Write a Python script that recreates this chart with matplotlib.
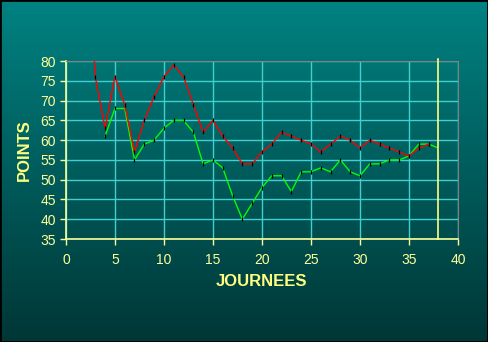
import numpy as np
import matplotlib
matplotlib.use('Agg')
from matplotlib import pyplot as plt
from matplotlib.colors import LinearSegmentedColormap

# data
journees_red = list(range(2, 38))
points_red = [120, 76, 63, 76, 69, 57, 65, 71, 76, 79, 76, 69, 62, 65, 61, 58, 54, 54,
              57, 59, 62, 61, 60, 59, 57, 59, 61, 60, 58, 60, 59, 58, 57, 56, 58, 59]
journees_green = list(range(4, 39))
points_green = [61, 68, 68, 55, 59, 60, 63, 65, 65, 62, 54, 55, 53, 46, 40, 44, 48, 51,
                51, 47, 52, 52, 53, 52, 55, 52, 51, 54, 54, 55, 55, 56, 59, 59, 58]
x_ticks = list(range(0, 45, 5))
y_ticks = list(range(35, 85, 5))
marker_line = 38

plt.rcParams['font.family'] = ['Liberation Sans', 'DejaVu Sans']

fig = plt.figure(figsize=(4.88, 3.42), dpi=100)

# background gradient over the whole figure
bg = fig.add_axes([0, 0, 1, 1], zorder=0)
cmap = LinearSegmentedColormap.from_list('bg', ['#008282', '#003636'])
bg.imshow(np.linspace(0, 1, 256).reshape(-1, 1), aspect='auto', cmap=cmap,
          extent=[0, 1, 0, 1])
bg.set_axis_off()
bg.add_patch(plt.Rectangle((0, 0), 1, 1, fill=False, edgecolor='black', lw=2,
                           transform=bg.transAxes, clip_on=False))

ax = fig.add_axes([0.135, 0.301, 0.8035, 0.5206], zorder=1)
ax.patch.set_alpha(0)

ax.plot(journees_green, points_green, color='#00ff00', lw=1, marker='|', ms=2.5,
        mec='black', mew=0.9, zorder=3)
ax.plot(journees_red, points_red, color='#ff0000', lw=1, marker='|', ms=2.5,
        mec='black', mew=0.9, zorder=4)
ax.axvline(marker_line, color='#ffff80', lw=1.2, ymax=1.01, clip_on=False, zorder=5)

ax.set_xlim(0, 40)
ax.set_ylim(35, 80)
ax.set_xticks(x_ticks)
ax.set_yticks(y_ticks)
ax.grid(True, color='#40d0d0', lw=1)
ax.set_axisbelow(True)

for side in ['top', 'right']:
    ax.spines[side].set_color('#808080')
for side in ['left', 'bottom']:
    ax.spines[side].set_color('#ffff99')
    ax.spines[side].set_linewidth(1.2)

ax.tick_params(colors='#ffff99', labelsize=10, length=4, width=1)
ax.tick_params(axis='x', pad=6)
ax.tick_params(axis='y', pad=3)

ax.set_xlabel('JOURNEES', color='#ffff80', fontsize=12, fontweight='bold', labelpad=5)
ax.set_ylabel('POINTS', color='#ffff80', fontsize=12, fontweight='bold', labelpad=6)

fig.savefig('out.png', dpi=100)
